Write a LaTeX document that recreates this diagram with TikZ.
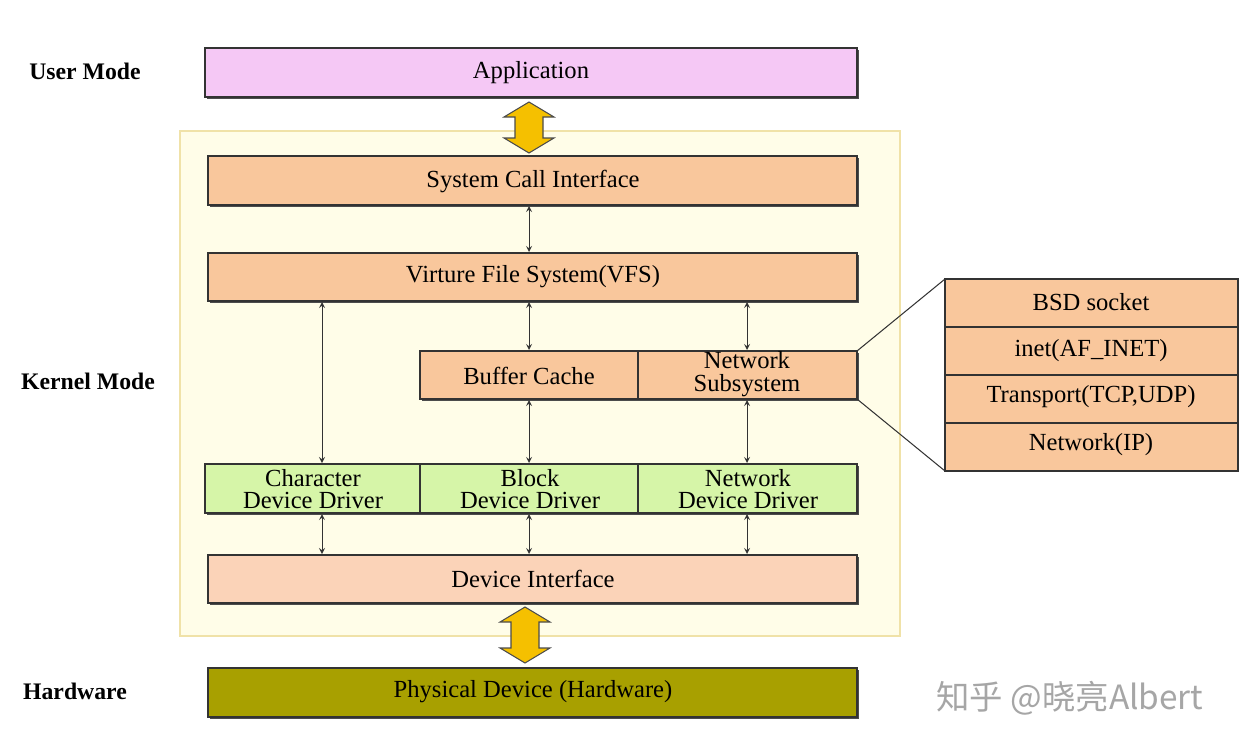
\documentclass[tikz,border=0pt]{standalone}
\usepackage{fontspec}
\setmainfont{Liberation Serif}
\newfontfamily\cjk{Noto Sans CJK SC}
\usetikzlibrary{shadows}
\definecolor{pinkc}{HTML}{F5C8F5}
\definecolor{peach}{HTML}{F9C79C}
\definecolor{peachl}{HTML}{FBD3B8}
\definecolor{greenc}{HTML}{D6F5A8}
\definecolor{olive}{HTML}{A8A000}
\definecolor{kbg}{HTML}{FFFDE8}
\definecolor{kedge}{HTML}{F0E2A8}
\definecolor{yel}{HTML}{F5C000}
\begin{document}
\begin{tikzpicture}[x=0.02cm,y=-0.02cm,
  box/.style={draw=black!80,line width=0.6pt,drop shadow={shadow xshift=1pt,shadow yshift=-1pt,fill=black!70,opacity=1}},
  lbl/.style={font=\fontsize{14}{11.5}\selectfont},
  two/.style={font=\fontsize{14}{13}\selectfont,align=center,inner sep=0pt},
  side/.style={font=\bfseries\fontsize{13.5}{13}\selectfont},
  sa/.style={<->,>={stealth},line width=0.5pt,black!80},
  big/.style={draw=black!70,fill=yel,line width=0.6pt,line join=miter}]
\useasboundingbox (0,0) rectangle (1250,748);
\fill[white] (0,0) rectangle (1250,748);
\draw[kedge,fill=kbg,line width=0.8pt] (180,131) rectangle (900,636);
% boxes
\draw[box,fill=pinkc] (205,48) rectangle (857,97);
\node[lbl] (app) at (531,73) {Application};
\draw[box,fill=peach] (208,156) rectangle (857,205);
\node[lbl] (sci) at (533,181) {System Call Interface};
\draw[box,fill=peach] (208,253) rectangle (857,301);
\node[lbl] (vfs) at (533,277) {Virture File System(VFS)};
\draw[box,fill=peach] (420,351) rectangle (857,399);
\draw[black!80,line width=0.6pt] (638,351) -- (638,399);
\node[lbl] (buf) at (529,376) {Buffer Cache};
\node[two] (net) at (747,374) {Network\\Subsystem};
\draw[box,fill=greenc] (205,464) rectangle (857,513);
\draw[black!80,line width=0.6pt] (420,464) -- (420,513) (638,464) -- (638,513);
\node[two] (cdd) at (313,489) {Character\\Device Driver};
\node[two] (bdd) at (530,489) {Block\\Device Driver};
\node[two] (ndd) at (748,489) {Network\\Device Driver};
\draw[box,fill=peachl] (208,555) rectangle (857,603);
\node[lbl] (dev) at (533,579) {Device Interface};
\draw[box,fill=olive] (208,668) rectangle (857,717);
\node[lbl] (phy) at (533,692) {Physical Device (Hardware)};
% right panel
\draw[fill=peach,draw=black!80,line width=0.6pt] (945,279) rectangle (1238,471);
\draw[black!80,line width=0.6pt] (945,327) -- (1238,327) (945,375) -- (1238,375) (945,423) -- (1238,423);
\node[lbl] (bsd) at (1091,302) {BSD socket};
\node[lbl] (inet) at (1091,351) {inet(AF\_INET)};
\node[lbl] (tr) at (1091,397) {Transport(TCP,UDP)};
\node[lbl] (ip) at (1091,445) {Network(IP)};
\coordinate (p1) at (857,351); \coordinate (p2) at (945,279);
\coordinate (p3) at (857,399); \coordinate (p4) at (945,471);
\draw[black!80,line width=0.6pt] (p1) -- (p2) (p3) -- (p4);
% side labels
\node[side] (um) at (85,71) {User Mode};
\node[side] (km) at (88,381) {Kernel Mode};
\node[side] (hw) at (75,691) {Hardware};
% small arrows
\foreach \x/\a/\b in {529/205/253, 322/301/464, 529/301/351, 747/301/351, 529/399/464, 747/399/464, 322/513/555, 529/513/555, 747/513/555}
  {\draw[sa] (\x,\a+1) -- (\x,\b-1);}
% big arrows
\draw[big] (529,102) -- (554,117) -- (543,117) -- (543,138) -- (554,138) -- (529,153) -- (504,138) -- (515,138) -- (515,117) -- (504,117) -- cycle;
\draw[big] (525,607) -- (550,622) -- (539,622) -- (539,648) -- (550,648) -- (525,663) -- (500,648) -- (511,648) -- (511,622) -- (500,622) -- cycle;
% watermark
\node[text=black!35,font=\cjk\fontsize{19}{19}\selectfont] (wm) at (1070,698) {知乎 @晓亮Albert};
\end{tikzpicture}
\end{document}
